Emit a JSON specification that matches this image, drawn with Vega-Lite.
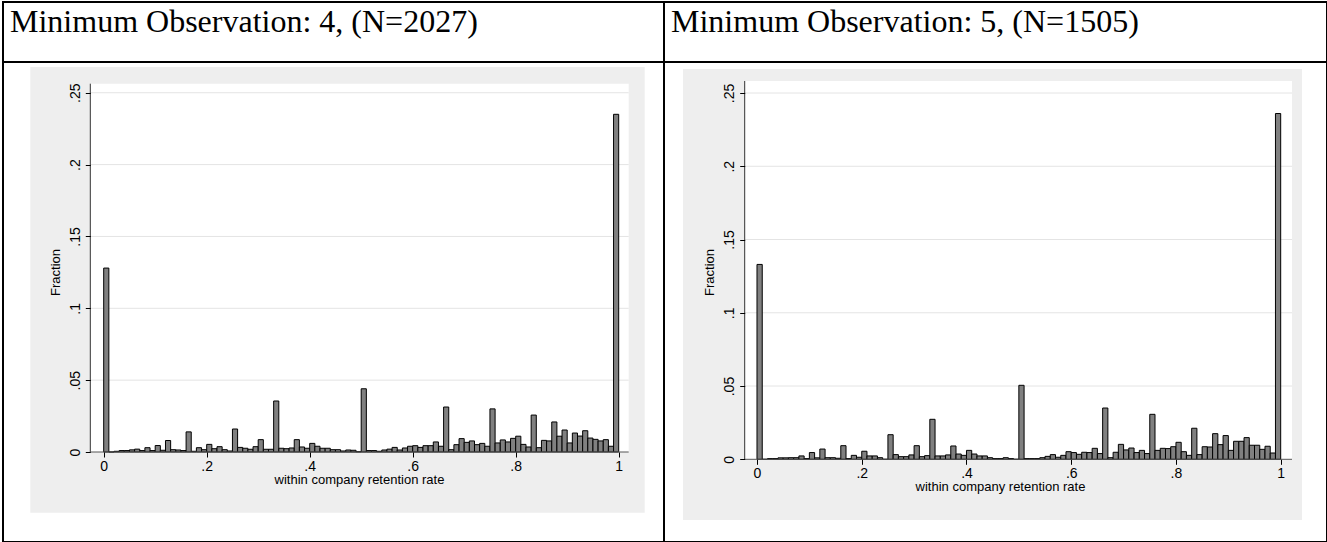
{
  "$schema": "https://vega.github.io/schema/vega-lite/v6.json",
  "padding": {"left": 1, "top": 1, "right": 2, "bottom": 1},
  "background": "white",
  "spacing": 0,
  "bounds": "flush",
  "config": {
    "view": {"stroke": "#000000", "strokeWidth": 2, "fill": "white"},
    "axis": {"labelFont": "Liberation Sans", "titleFont": "Liberation Sans", "labelFontSize": 14, "titleFontSize": 13, "labelColor": "#000000", "titleColor": "#000000", "titleFontWeight": "normal", "tickColor": "#000000", "tickSize": 5, "domain": false, "grid": false},
    "title": {"font": "Liberation Serif", "fontSize": 32, "fontWeight": "normal", "color": "#000000", "anchor": "start", "frame": "group", "baseline": "alphabetic", "offset": -37, "dx": 7}
  },
  "datasets": {
    "ticks": [{"t": 0.05}, {"t": 0.1}, {"t": 0.15}, {"t": 0.2}, {"t": 0.25}],
    "one": [{}],
    "left": [
      {"lo":0.00,"hi":0.01,"frac":0.128},{"lo":0.01,"hi":0.02,"frac":0},{"lo":0.02,"hi":0.03,"frac":0.0005},{"lo":0.03,"hi":0.04,"frac":0.001},{"lo":0.04,"hi":0.05,"frac":0.001},
      {"lo":0.05,"hi":0.06,"frac":0.0015},{"lo":0.06,"hi":0.07,"frac":0.002},{"lo":0.07,"hi":0.08,"frac":0.001},{"lo":0.08,"hi":0.09,"frac":0.003},{"lo":0.09,"hi":0.10,"frac":0.001},
      {"lo":0.10,"hi":0.11,"frac":0.0045},{"lo":0.11,"hi":0.12,"frac":0.0012},{"lo":0.12,"hi":0.13,"frac":0.008},{"lo":0.13,"hi":0.14,"frac":0.0016},{"lo":0.14,"hi":0.15,"frac":0.0014},
      {"lo":0.15,"hi":0.16,"frac":0.001},{"lo":0.16,"hi":0.17,"frac":0.014},{"lo":0.17,"hi":0.18,"frac":0.0005},{"lo":0.18,"hi":0.19,"frac":0.003},{"lo":0.19,"hi":0.20,"frac":0.0016},
      {"lo":0.20,"hi":0.21,"frac":0.0053},{"lo":0.21,"hi":0.22,"frac":0.0023},{"lo":0.22,"hi":0.23,"frac":0.0037},{"lo":0.23,"hi":0.24,"frac":0.0016},{"lo":0.24,"hi":0.25,"frac":0.0007},
      {"lo":0.25,"hi":0.26,"frac":0.016},{"lo":0.26,"hi":0.27,"frac":0.0032},{"lo":0.27,"hi":0.28,"frac":0.0026},{"lo":0.28,"hi":0.29,"frac":0.0019},{"lo":0.29,"hi":0.30,"frac":0.0037},
      {"lo":0.30,"hi":0.31,"frac":0.0086},{"lo":0.31,"hi":0.32,"frac":0.0019},{"lo":0.32,"hi":0.33,"frac":0.0019},{"lo":0.33,"hi":0.34,"frac":0.0355},{"lo":0.34,"hi":0.35,"frac":0.0026},
      {"lo":0.35,"hi":0.36,"frac":0.0023},{"lo":0.36,"hi":0.37,"frac":0.0028},{"lo":0.37,"hi":0.38,"frac":0.0086},{"lo":0.38,"hi":0.39,"frac":0.0035},{"lo":0.39,"hi":0.40,"frac":0.0026},
      {"lo":0.40,"hi":0.41,"frac":0.006},{"lo":0.41,"hi":0.42,"frac":0.004},{"lo":0.42,"hi":0.43,"frac":0.0026},{"lo":0.43,"hi":0.44,"frac":0.0026},{"lo":0.44,"hi":0.45,"frac":0.0016},
      {"lo":0.45,"hi":0.46,"frac":0.0016},{"lo":0.46,"hi":0.47,"frac":0.0007},{"lo":0.47,"hi":0.48,"frac":0.0014},{"lo":0.48,"hi":0.49,"frac":0.0012},{"lo":0.49,"hi":0.50,"frac":0.0002},
      {"lo":0.50,"hi":0.51,"frac":0.044},{"lo":0.51,"hi":0.52,"frac":0.001},{"lo":0.52,"hi":0.53,"frac":0.001},{"lo":0.53,"hi":0.54,"frac":0.0005},{"lo":0.54,"hi":0.55,"frac":0.0014},
      {"lo":0.55,"hi":0.56,"frac":0.002},{"lo":0.56,"hi":0.57,"frac":0.0032},{"lo":0.57,"hi":0.58,"frac":0.0014},{"lo":0.58,"hi":0.59,"frac":0.0028},{"lo":0.59,"hi":0.60,"frac":0.004},
      {"lo":0.60,"hi":0.61,"frac":0.0044},{"lo":0.61,"hi":0.62,"frac":0.0032},{"lo":0.62,"hi":0.63,"frac":0.0044},{"lo":0.63,"hi":0.64,"frac":0.0044},{"lo":0.64,"hi":0.65,"frac":0.007},
      {"lo":0.65,"hi":0.66,"frac":0.004},{"lo":0.66,"hi":0.67,"frac":0.0313},{"lo":0.67,"hi":0.68,"frac":0.0016},{"lo":0.68,"hi":0.69,"frac":0.0051},{"lo":0.69,"hi":0.70,"frac":0.0093},
      {"lo":0.70,"hi":0.71,"frac":0.0067},{"lo":0.71,"hi":0.72,"frac":0.0077},{"lo":0.72,"hi":0.73,"frac":0.0051},{"lo":0.73,"hi":0.74,"frac":0.006},{"lo":0.74,"hi":0.75,"frac":0.004},
      {"lo":0.75,"hi":0.76,"frac":0.030},{"lo":0.76,"hi":0.77,"frac":0.0063},{"lo":0.77,"hi":0.78,"frac":0.0084},{"lo":0.78,"hi":0.79,"frac":0.007},{"lo":0.79,"hi":0.80,"frac":0.0095},
      {"lo":0.80,"hi":0.81,"frac":0.011},{"lo":0.81,"hi":0.82,"frac":0.0053},{"lo":0.82,"hi":0.83,"frac":0.0035},{"lo":0.83,"hi":0.84,"frac":0.0257},{"lo":0.84,"hi":0.85,"frac":0.003},
      {"lo":0.85,"hi":0.86,"frac":0.0081},{"lo":0.86,"hi":0.87,"frac":0.0077},{"lo":0.87,"hi":0.88,"frac":0.0209},{"lo":0.88,"hi":0.89,"frac":0.011},{"lo":0.89,"hi":0.90,"frac":0.0153},
      {"lo":0.90,"hi":0.91,"frac":0.0063},{"lo":0.91,"hi":0.92,"frac":0.0132},{"lo":0.92,"hi":0.93,"frac":0.0111},{"lo":0.93,"hi":0.94,"frac":0.0148},{"lo":0.94,"hi":0.95,"frac":0.0097},
      {"lo":0.95,"hi":0.96,"frac":0.0088},{"lo":0.96,"hi":0.97,"frac":0.0077},{"lo":0.97,"hi":0.98,"frac":0.0086},{"lo":0.98,"hi":0.99,"frac":0.004},{"lo":0.99,"hi":1.00,"frac":0.235}
    ],
    "right": [
      {"lo":0.00,"hi":0.01,"frac":0.133},{"lo":0.01,"hi":0.02,"frac":0},{"lo":0.02,"hi":0.03,"frac":0.0005},{"lo":0.03,"hi":0.04,"frac":0.0005},{"lo":0.04,"hi":0.05,"frac":0.001},
      {"lo":0.05,"hi":0.06,"frac":0.001},{"lo":0.06,"hi":0.07,"frac":0.0011},{"lo":0.07,"hi":0.08,"frac":0.0011},{"lo":0.08,"hi":0.09,"frac":0.0023},{"lo":0.09,"hi":0.10,"frac":0.0005},
      {"lo":0.10,"hi":0.11,"frac":0.0046},{"lo":0.11,"hi":0.12,"frac":0.001},{"lo":0.12,"hi":0.13,"frac":0.007},{"lo":0.13,"hi":0.14,"frac":0.0011},{"lo":0.14,"hi":0.15,"frac":0.0011},
      {"lo":0.15,"hi":0.16,"frac":0.0007},{"lo":0.16,"hi":0.17,"frac":0.0093},{"lo":0.17,"hi":0.18,"frac":0.0005},{"lo":0.18,"hi":0.19,"frac":0.0027},{"lo":0.19,"hi":0.20,"frac":0.0014},
      {"lo":0.20,"hi":0.21,"frac":0.0055},{"lo":0.21,"hi":0.22,"frac":0.0023},{"lo":0.22,"hi":0.23,"frac":0.0023},{"lo":0.23,"hi":0.24,"frac":0.0011},{"lo":0.24,"hi":0.25,"frac":0},
      {"lo":0.25,"hi":0.26,"frac":0.0168},{"lo":0.26,"hi":0.27,"frac":0.0032},{"lo":0.27,"hi":0.28,"frac":0.0018},{"lo":0.28,"hi":0.29,"frac":0.0018},{"lo":0.29,"hi":0.30,"frac":0.003},
      {"lo":0.30,"hi":0.31,"frac":0.0093},{"lo":0.31,"hi":0.32,"frac":0.0018},{"lo":0.32,"hi":0.33,"frac":0.0025},{"lo":0.33,"hi":0.34,"frac":0.0273},{"lo":0.34,"hi":0.35,"frac":0.0023},
      {"lo":0.35,"hi":0.36,"frac":0.0023},{"lo":0.36,"hi":0.37,"frac":0.003},{"lo":0.37,"hi":0.38,"frac":0.0091},{"lo":0.38,"hi":0.39,"frac":0.0036},{"lo":0.39,"hi":0.40,"frac":0.0027},
      {"lo":0.40,"hi":0.41,"frac":0.0061},{"lo":0.41,"hi":0.42,"frac":0.0036},{"lo":0.42,"hi":0.43,"frac":0.0023},{"lo":0.43,"hi":0.44,"frac":0.0023},{"lo":0.44,"hi":0.45,"frac":0.0011},
      {"lo":0.45,"hi":0.46,"frac":0.0005},{"lo":0.46,"hi":0.47,"frac":0.0005},{"lo":0.47,"hi":0.48,"frac":0.0011},{"lo":0.48,"hi":0.49,"frac":0.0005},{"lo":0.49,"hi":0.50,"frac":0},
      {"lo":0.50,"hi":0.51,"frac":0.0505},{"lo":0.51,"hi":0.52,"frac":0.0005},{"lo":0.52,"hi":0.53,"frac":0.0005},{"lo":0.53,"hi":0.54,"frac":0.0005},{"lo":0.54,"hi":0.55,"frac":0.0011},
      {"lo":0.55,"hi":0.56,"frac":0.002},{"lo":0.56,"hi":0.57,"frac":0.0032},{"lo":0.57,"hi":0.58,"frac":0.0014},{"lo":0.58,"hi":0.59,"frac":0.0027},{"lo":0.59,"hi":0.60,"frac":0.0052},
      {"lo":0.60,"hi":0.61,"frac":0.0046},{"lo":0.61,"hi":0.62,"frac":0.0034},{"lo":0.62,"hi":0.63,"frac":0.0048},{"lo":0.63,"hi":0.64,"frac":0.0046},{"lo":0.64,"hi":0.65,"frac":0.0075},
      {"lo":0.65,"hi":0.66,"frac":0.0039},{"lo":0.66,"hi":0.67,"frac":0.035},{"lo":0.67,"hi":0.68,"frac":0.0011},{"lo":0.68,"hi":0.69,"frac":0.0048},{"lo":0.69,"hi":0.70,"frac":0.0102},
      {"lo":0.70,"hi":0.71,"frac":0.0064},{"lo":0.71,"hi":0.72,"frac":0.0077},{"lo":0.72,"hi":0.73,"frac":0.0046},{"lo":0.73,"hi":0.74,"frac":0.0061},{"lo":0.74,"hi":0.75,"frac":0.0039},
      {"lo":0.75,"hi":0.76,"frac":0.0307},{"lo":0.76,"hi":0.77,"frac":0.0061},{"lo":0.77,"hi":0.78,"frac":0.0075},{"lo":0.78,"hi":0.79,"frac":0.0073},{"lo":0.79,"hi":0.80,"frac":0.0086},
      {"lo":0.80,"hi":0.81,"frac":0.0116},{"lo":0.81,"hi":0.82,"frac":0.0052},{"lo":0.82,"hi":0.83,"frac":0.0027},{"lo":0.83,"hi":0.84,"frac":0.0212},{"lo":0.84,"hi":0.85,"frac":0.0032},
      {"lo":0.85,"hi":0.86,"frac":0.0086},{"lo":0.86,"hi":0.87,"frac":0.0084},{"lo":0.87,"hi":0.88,"frac":0.0175},{"lo":0.88,"hi":0.89,"frac":0.01},{"lo":0.89,"hi":0.90,"frac":0.0162},
      {"lo":0.90,"hi":0.91,"frac":0.0061},{"lo":0.91,"hi":0.92,"frac":0.0123},{"lo":0.92,"hi":0.93,"frac":0.0123},{"lo":0.93,"hi":0.94,"frac":0.0148},{"lo":0.94,"hi":0.95,"frac":0.0096},
      {"lo":0.95,"hi":0.96,"frac":0.0096},{"lo":0.96,"hi":0.97,"frac":0.0068},{"lo":0.97,"hi":0.98,"frac":0.0089},{"lo":0.98,"hi":0.99,"frac":0.0043},{"lo":0.99,"hi":1.00,"frac":0.236}
    ]
  },
  "hconcat": [
    {
      "width": 661,
      "height": 540,
      "title": "Minimum Observation: 4, (N=2027)",
      "layer": [
        {
          "data": {"name": "one"},
          "mark": {"type": "rect", "fill": "#eeeeee"},
          "encoding": {
            "x": {"datum": -0.14252, "type": "quantitative", "scale": {"domain": [-0.19553, 1.08796], "nice": false, "zero": false}},
            "x2": {"datum": 1.05049},
            "y": {"datum": -0.04224, "type": "quantitative", "scale": {"domain": [-0.06263, 0.31315], "nice": false, "zero": false}},
            "y2": {"datum": 0.26792}
          }
        },
        {
          "data": {"name": "one"},
          "mark": {"type": "rect", "fill": "#ffffff"},
          "encoding": {
            "x": {"datum": -0.02602, "type": "quantitative", "scale": {"domain": [-0.19553, 1.08796], "nice": false, "zero": false}},
            "x2": {"datum": 1.01942},
            "y": {"datum": 0, "type": "quantitative", "scale": {"domain": [-0.06263, 0.31315], "nice": false, "zero": false}},
            "y2": {"datum": 0.2563}
          }
        },
        {
          "data": {"name": "ticks"},
          "mark": {"type": "rule", "stroke": "#e4e4e4", "strokeWidth": 1},
          "encoding": {
            "x": {"datum": -0.02602, "type": "quantitative", "scale": {"domain": [-0.19553, 1.08796], "nice": false, "zero": false}},
            "x2": {"datum": 1.01942},
            "y": {"field": "t", "type": "quantitative", "scale": {"domain": [-0.06263, 0.31315], "nice": false, "zero": false}}
          }
        },
        {
          "data": {"name": "left"},
          "mark": {"type": "rect", "fill": "#808080", "stroke": "#000000", "strokeWidth": 1},
          "encoding": {
            "x": {"field": "lo", "type": "quantitative", "scale": {"domain": [-0.19553, 1.08796], "nice": false, "zero": false},
                  "axis": {"zindex": 2, "values": [0, 0.2, 0.4, 0.6, 0.8, 1], "labelExpr": "datum.value > 0 && datum.value < 1 ? substring(toString(datum.value), 1) : toString(datum.value)", "title": "within company retention rate", "offset": -90, "labelPadding": 2, "titlePadding": 0, "titleX": 356, "labelFlush": false, "labelOverlap": false}},
            "x2": {"field": "hi"},
            "y": {"field": "frac", "type": "quantitative", "scale": {"domain": [-0.06263, 0.31315], "nice": false, "zero": false},
                  "axis": {"zindex": 2, "values": [0, 0.05, 0.1, 0.15, 0.2, 0.25], "labelExpr": "datum.value > 0 && datum.value < 1 ? substring(toString(datum.value), 1) : toString(datum.value)", "labelAngle": -90, "title": "Fraction", "offset": -87.3, "labelPadding": 3, "titlePadding": 6, "labelFlush": false, "labelOverlap": false}},
            "y2": {"datum": 0}
          }
        },
        {
          "data": {"name": "one"},
          "mark": {"type": "rule", "stroke": "#333333", "strokeWidth": 1},
          "encoding": {
            "x": {"datum": -0.02602, "type": "quantitative", "scale": {"domain": [-0.19553, 1.08796], "nice": false, "zero": false}},
            "y": {"datum": 0, "type": "quantitative", "scale": {"domain": [-0.06263, 0.31315], "nice": false, "zero": false}},
            "y2": {"datum": 0.2563}
          }
        },
        {
          "data": {"name": "one"},
          "mark": {"type": "rule", "stroke": "#555555", "strokeWidth": 1},
          "encoding": {
            "x": {"datum": -0.02602, "type": "quantitative", "scale": {"domain": [-0.19553, 1.08796], "nice": false, "zero": false}},
            "x2": {"datum": 1.01942},
            "y": {"datum": 0, "type": "quantitative", "scale": {"domain": [-0.06263, 0.31315], "nice": false, "zero": false}}
          }
        },
        {
          "data": {"name": "one"},
          "mark": {"type": "rule", "stroke": "#000000", "strokeWidth": 2},
          "encoding": {
            "y": {"datum": 0.2714, "type": "quantitative", "scale": {"domain": [-0.06263, 0.31315], "nice": false, "zero": false}}
          }
        }
      ]
    },
    {
      "width": 663,
      "height": 540,
      "title": "Minimum Observation: 5, (N=1505)",
      "layer": [
        {
          "data": {"name": "one"},
          "mark": {"type": "rect", "fill": "#eeeeee"},
          "encoding": {
            "x": {"datum": -0.1413, "type": "quantitative", "scale": {"domain": [-0.17758, 1.08841], "nice": false, "zero": false}},
            "x2": {"datum": 1.0407},
            "y": {"datum": -0.04143, "type": "quantitative", "scale": {"domain": [-0.05644, 0.31211], "nice": false, "zero": false}},
            "y2": {"datum": 0.2664}
          }
        },
        {
          "data": {"name": "one"},
          "mark": {"type": "rect", "fill": "#ffffff"},
          "encoding": {
            "x": {"datum": -0.02349, "type": "quantitative", "scale": {"domain": [-0.17758, 1.08841], "nice": false, "zero": false}},
            "x2": {"datum": 1.0216},
            "y": {"datum": 0, "type": "quantitative", "scale": {"domain": [-0.05644, 0.31211], "nice": false, "zero": false}},
            "y2": {"datum": 0.2582}
          }
        },
        {
          "data": {"name": "ticks"},
          "mark": {"type": "rule", "stroke": "#e4e4e4", "strokeWidth": 1},
          "encoding": {
            "x": {"datum": -0.02349, "type": "quantitative", "scale": {"domain": [-0.17758, 1.08841], "nice": false, "zero": false}},
            "x2": {"datum": 1.0216},
            "y": {"field": "t", "type": "quantitative", "scale": {"domain": [-0.05644, 0.31211], "nice": false, "zero": false}}
          }
        },
        {
          "data": {"name": "right"},
          "mark": {"type": "rect", "fill": "#808080", "stroke": "#000000", "strokeWidth": 1},
          "encoding": {
            "x": {"field": "lo", "type": "quantitative", "scale": {"domain": [-0.17758, 1.08841], "nice": false, "zero": false},
                  "axis": {"zindex": 2, "values": [0, 0.2, 0.4, 0.6, 0.8, 1], "labelExpr": "datum.value > 0 && datum.value < 1 ? substring(toString(datum.value), 1) : toString(datum.value)", "title": "within company retention rate", "offset": -82.7, "labelPadding": 2, "titlePadding": 0, "titleX": 336, "labelFlush": false, "labelOverlap": false}},
            "x2": {"field": "hi"},
            "y": {"field": "frac", "type": "quantitative", "scale": {"domain": [-0.05644, 0.31211], "nice": false, "zero": false},
                  "axis": {"zindex": 2, "values": [0, 0.05, 0.1, 0.15, 0.2, 0.25], "labelExpr": "datum.value > 0 && datum.value < 1 ? substring(toString(datum.value), 1) : toString(datum.value)", "labelAngle": -90, "title": "Fraction", "offset": -80.7, "labelPadding": 3, "titlePadding": 6, "labelFlush": false, "labelOverlap": false}},
            "y2": {"datum": 0}
          }
        },
        {
          "data": {"name": "one"},
          "mark": {"type": "rule", "stroke": "#333333", "strokeWidth": 1},
          "encoding": {
            "x": {"datum": -0.02349, "type": "quantitative", "scale": {"domain": [-0.17758, 1.08841], "nice": false, "zero": false}},
            "y": {"datum": 0, "type": "quantitative", "scale": {"domain": [-0.05644, 0.31211], "nice": false, "zero": false}},
            "y2": {"datum": 0.2582}
          }
        },
        {
          "data": {"name": "one"},
          "mark": {"type": "rule", "stroke": "#555555", "strokeWidth": 1},
          "encoding": {
            "x": {"datum": -0.02349, "type": "quantitative", "scale": {"domain": [-0.17758, 1.08841], "nice": false, "zero": false}},
            "x2": {"datum": 1.0216},
            "y": {"datum": 0, "type": "quantitative", "scale": {"domain": [-0.05644, 0.31211], "nice": false, "zero": false}}
          }
        },
        {
          "data": {"name": "one"},
          "mark": {"type": "rule", "stroke": "#000000", "strokeWidth": 2},
          "encoding": {
            "y": {"datum": 0.2712, "type": "quantitative", "scale": {"domain": [-0.05644, 0.31211], "nice": false, "zero": false}}
          }
        }
      ]
    }
  ]
}
